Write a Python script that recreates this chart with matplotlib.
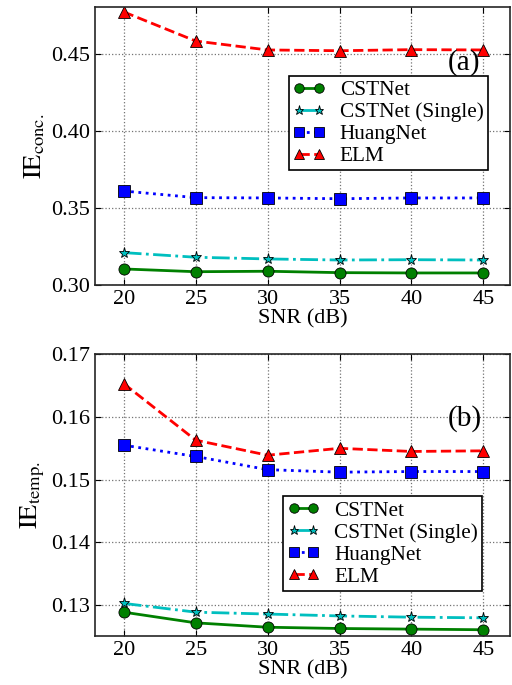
import matplotlib
matplotlib.use("Agg")
import matplotlib.pyplot as plt
from matplotlib.ticker import FormatStrFormatter

snr = [20, 25, 30, 35, 40, 45]
series_names = ["CSTNet", "CSTNet (Single)", "HuangNet", "ELM"]

conc_cstnet = [0.3104, 0.3086, 0.3089, 0.3080, 0.3078, 0.3078]
conc_single = [0.3210, 0.3180, 0.3169, 0.3162, 0.3164, 0.3162]
conc_huang = [0.3610, 0.3567, 0.3565, 0.3560, 0.3565, 0.3565]
conc_elm = [0.4773, 0.4584, 0.4526, 0.4521, 0.4528, 0.4526]

temp_cstnet = [0.1289, 0.1272, 0.1265, 0.1263, 0.1262, 0.1261]
temp_single = [0.1303, 0.1289, 0.1286, 0.1283, 0.1281, 0.1280]
temp_huang = [0.1555, 0.1537, 0.1516, 0.1512, 0.1513, 0.1513]
temp_elm = [0.1653, 0.1563, 0.1539, 0.1550, 0.1545, 0.1546]

conc_yticks = [0.30, 0.35, 0.40, 0.45]
temp_yticks = [0.13, 0.14, 0.15, 0.16, 0.17]

plt.rcParams['font.family'] = ['Liberation Serif', 'DejaVu Serif']
plt.rcParams['mathtext.fontset'] = 'stix'

styles = [
    dict(color=(0, 0.5, 0), linestyle='-', marker='o', markersize=8),
    dict(color=(0, 0.75, 0.75), linestyle='-.', marker='*', markersize=8),
    dict(color=(0, 0, 1), linestyle=':', marker='s', markersize=8),
    dict(color=(1, 0, 0), linestyle='--', marker='^', markersize=8),
]

fig = plt.figure(figsize=(5.12, 6.85), dpi=100)
ax1 = fig.add_axes([0.1855, 0.584, 0.8105, 0.4058])
ax2 = fig.add_axes([0.1855, 0.0715, 0.8105, 0.4115])


def draw(ax, data, yticks, ylim, ylabel, tag, tagpos, legpos):
    for name, vals, st in zip(series_names, data, styles):
        ax.plot(snr, vals, label=name, linewidth=2, markeredgecolor='k',
                markeredgewidth=0.6, **st)
    ax.set_xlim(18.0, 46.85)
    ax.set_ylim(*ylim)
    ax.set_xticks(snr)
    ax.set_yticks(yticks)
    ax.yaxis.set_major_formatter(FormatStrFormatter('%.2f'))
    ax.tick_params(direction='in', top=True, right=True, labelsize=16, length=4)
    ax.grid(True, linestyle=':', color='0.45', linewidth=0.9)
    for s in ax.spines.values():
        s.set_linewidth(1.2)
        s.set_color('0.15')
    ax.set_xlabel('SNR (dB)', fontsize=16, labelpad=0)
    ax.set_ylabel(ylabel, fontsize=19, labelpad=3)
    ax.text(tagpos[0], tagpos[1], tag, transform=ax.transAxes, fontsize=21,
            ha='center', va='center')
    leg = ax.legend(loc='upper left', bbox_to_anchor=legpos, numpoints=2,
                    fontsize=15.3, fancybox=False, framealpha=1, edgecolor='k',
                    handlelength=1.5, handletextpad=0.7, borderpad=0.2,
                    labelspacing=0.1, borderaxespad=0, markerscale=0.85)
    leg.get_frame().set_linewidth(1.2)


draw(ax1, [conc_cstnet, conc_single, conc_huang, conc_elm], conc_yticks,
     (0.30, 0.4805), r'$\mathrm{IE}_{\mathrm{conc.}}$', '(a)', (0.889, 0.80),
     (0.467, 0.752))
draw(ax2, [temp_cstnet, temp_single, temp_huang, temp_elm], temp_yticks,
     (0.1251, 0.17), r'$\mathrm{IE}_{\mathrm{temp.}}$', '(b)', (0.892, 0.773),
     (0.453, 0.495))

fig.savefig('out.png', dpi=100)
